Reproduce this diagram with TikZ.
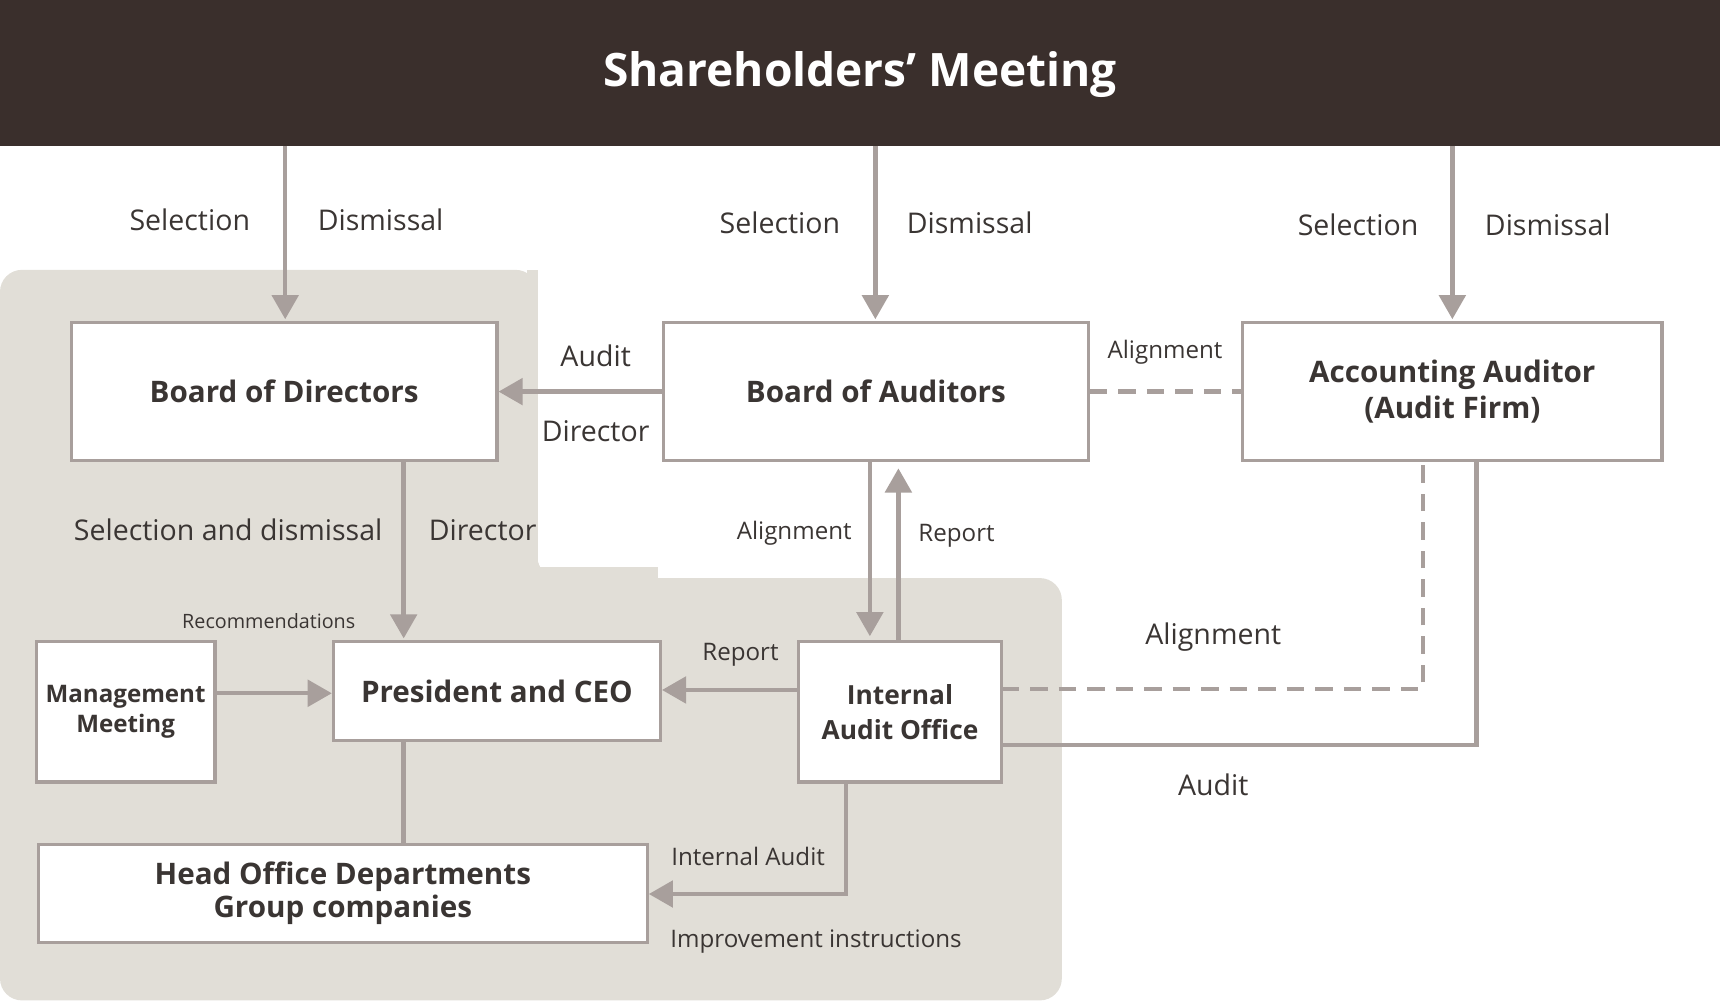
\documentclass[tikz,border=0pt]{standalone}
\usepackage{fontspec}
\setmainfont{Open Sans}
\usetikzlibrary{arrows.meta}
\definecolor{dark}{HTML}{3A2F2C}
\definecolor{bg}{HTML}{E1DED7}
\definecolor{ln}{HTML}{A89F9C}
\definecolor{tx}{HTML}{3A3533}
\tikzset{
 box/.style={draw=ln,line width=1.5pt,fill=white,text=tx,font=\fontsize{13.5}{16}\selectfont\bfseries,align=center,inner sep=0pt},
 con/.style={draw=ln,line width=2pt},
 arr/.style={con,-{Triangle[length=11pt,width=12pt]}},
 dsh/.style={con,dash pattern=on 8pt off 5pt},
 lbl/.style={text=tx,font=\fontsize{13}{15}\selectfont,inner sep=0pt},
 slbl/.style={text=tx,font=\fontsize{11}{13}\selectfont,inner sep=0pt},
 tlbl/.style={text=tx,font=\fontsize{9}{11}\selectfont,inner sep=0pt},
}
\begin{document}
\begin{tikzpicture}[x=0.5pt,y=-0.5pt]
\useasboundingbox (0,0) rectangle (1568,914);
\fill[bg,rounded corners=10pt] (0,246) -- (490,246) -- (490,527) -- (968,527) -- (968,912) -- (0,912) -- cycle;
\fill[white,rounded corners=10pt] (490,400) -- (490,527) -- (600,527) -- (600,400)--cycle;
\fill[bg] (490,246) rectangle (480,540);
\fill[bg] (470,517) rectangle (600,540);
\fill[dark] (0,0) rectangle (1568,133);
\node[text=white,font=\fontsize{21}{24}\selectfont\bfseries] (sm) at (784,68) {Shareholders' Meeting};
\node[box,minimum width=194pt,minimum height=63pt] (bod) at (259,357) {Board of Directors};
\node[box,minimum width=193.5pt,minimum height=63pt] (boa) at (798.5,357) {Board of Auditors};
\node[box,minimum width=191pt,minimum height=63pt] (acc) at (1324,357) {Accounting Auditor\\(Audit Firm)};
\node[box,minimum width=149pt,minimum height=45pt] (pres) at (453,630) {President and CEO};
\node[box,minimum width=81.5pt,minimum height=64pt,font=\fontsize{11}{14}\selectfont\bfseries] (mm) at (114.5,649) {Management\\Meeting};
\node[box,minimum width=92.5pt,minimum height=64pt,font=\fontsize{12}{16}\selectfont\bfseries] (iao) at (820.5,649) {Internal\\Audit Office};
\node[box,minimum width=277.5pt,minimum height=44.5pt,font=\fontsize{13.5}{15}\selectfont\bfseries] (ho) at (312.5,814.5) {Head Office Departments\\Group companies};
% shareholders arrows
\draw[arr] (260,133) -- (260,291);
\draw[arr] (798,133) -- (798,291);
\draw[arr] (1324,133) -- (1324,291);
\node[lbl] at (173,200) {Selection};
\node[lbl] at (347,200) {Dismissal};
\node[lbl] at (711,203) {Selection};
\node[lbl] at (884,203) {Dismissal};
\node[lbl] at (1238,205) {Selection};
\node[lbl] at (1411,205) {Dismissal};
% BoA -> BoD
\draw[arr] (boa.west) -- (bod.east);
\node[lbl] at (543,324) {Audit};
\node[lbl] at (543,393) {Director};
\draw[dsh] (boa.east) -- (acc.west);
\node[slbl] at (1062,321) {Alignment};
% BoD -> Pres
\draw[arr] (368,420) -- (368,582);
\node[lbl] at (208,483) {Selection and dismissal};
\node[lbl] at (440,483) {Director};
\node[tlbl] at (245,566) {Recommendations};
% BoA <-> IAO
\draw[arr] (793,420) -- (793,580);
\draw[arr] (819,585) -- (819,427);
\node[slbl] at (724,486) {Alignment};
\node[slbl] at (872,488) {Report};
% MM -> Pres
\draw[arr] (mm.east |- 0,632) -- (pres.west |- 0,632);
% IAO -> Pres
\draw[arr] (iao.west |- 0,629) -- (pres.east |- 0,629);
\node[slbl] at (675,597) {Report};
% IAO - Acc dashed
\draw[dsh] (913,628) -- (1297,628) -- (1297,420);
\node[lbl] at (1106,581) {Alignment};
% Acc audit
\draw[con] (1346,420) -- (1346,679) -- (913,679);
\node[lbl] at (1106,715) {Audit};
% Pres - HO
\draw[con] (pres.south -| 368,0) -- (ho.north -| 368,0);
% IAO -> HO
\draw[arr] (771,713) -- (771,815) -- (ho.east |- 0,815);
\node[slbl] at (682,781) {Internal Audit};
\node[slbl] at (744,858) {Improvement instructions};
\end{tikzpicture}
\end{document}
